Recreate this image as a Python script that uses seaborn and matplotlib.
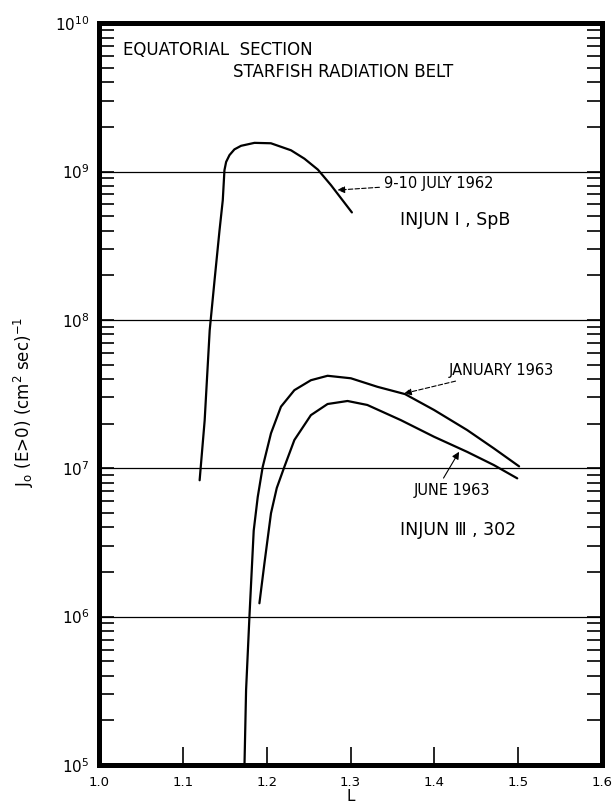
import numpy as np
import pandas as pd
import seaborn as sns
import matplotlib.pyplot as plt
from matplotlib.ticker import LogLocator, NullFormatter, FixedLocator

# ----------------------------
# Data
# ----------------------------
# 9-10 July 1962 (Injun I, SpB)
l_jul62 = [1.120, 1.126, 1.132, 1.138, 1.1437, 1.1476, 1.1496, 1.1516, 1.1556,
           1.1615, 1.1694, 1.1854, 1.205, 1.229, 1.245, 1.261, 1.2766, 1.3016]
j_jul62 = [8.3e6, 2.1e7, 8.5e7, 1.9e8, 4.0e8, 6.4e8, 1.02e9, 1.16e9, 1.29e9,
           1.41e9, 1.49e9, 1.56e9, 1.55e9, 1.39e9, 1.22e9, 1.03e9, 8.1e8, 5.3e8]

# January 1963 (Injun III, 302)
l_jan63 = [1.1730, 1.1735, 1.1754, 1.1794, 1.1845, 1.1893, 1.1952, 1.2051, 1.217,
           1.233, 1.2527, 1.2726, 1.3004, 1.332, 1.365, 1.3996, 1.439, 1.471, 1.501]
j_jan63 = [9.0e4, 1.0e5, 3.2e5, 1.0e6, 3.8e6, 6.4e6, 1.02e7, 1.72e7, 2.6e7,
           3.36e7, 3.92e7, 4.2e7, 4.04e7, 3.54e7, 3.16e7, 2.47e7, 1.81e7, 1.36e7, 1.03e7]

# June 1963 (Injun III, 302)
l_jun63 = [1.1913, 1.1973, 1.2051, 1.212, 1.221, 1.233, 1.2527, 1.2726, 1.2964,
           1.320, 1.360, 1.3996, 1.439, 1.471, 1.4988]
j_jun63 = [1.23e6, 2.29e6, 4.97e6, 7.36e6, 1.02e7, 1.55e7, 2.28e7, 2.71e7, 2.84e7,
           2.67e7, 2.11e7, 1.63e7, 1.29e7, 1.05e7, 8.55e6]

x_ticks = [1.0, 1.1, 1.2, 1.3, 1.4, 1.5, 1.6]
x_tick_labels = ["1.0", "1.1", "1.2", "1.3", "1.4", "1.5", "1.6"]
decades = [1e5, 1e6, 1e7, 1e8, 1e9, 1e10]
decade_labels = [r"10$^{5}$", r"10$^{6}$", r"10$^{7}$", r"10$^{8}$", r"10$^{9}$", r"10$^{10}$"]

df = pd.concat([
    pd.DataFrame({"L": l_jul62, "J": j_jul62, "curve": "jul62"}),
    pd.DataFrame({"L": l_jan63, "J": j_jan63, "curve": "jan63"}),
    pd.DataFrame({"L": l_jun63, "J": j_jun63, "curve": "jun63"}),
])

sns.set_style("white")
plt.rcParams["font.family"] = ["DejaVu Sans"]
plt.rcParams["text.color"] = "black"
plt.rcParams["axes.labelcolor"] = "black"
plt.rcParams["xtick.color"] = "black"
plt.rcParams["ytick.color"] = "black"

fig = plt.figure(figsize=(6.15, 8.09), dpi=100)
ax = fig.add_axes([0.161, 0.0544, 0.818, 0.917])

for name in ["jul62", "jan63", "jun63"]:
    sns.lineplot(data=df[df["curve"] == name], x="L", y="J", sort=False,
                 estimator=None, color="black", linewidth=1.6, ax=ax)

ax.set_yscale("log")
ax.set_xlim(1.0, 1.6)
ax.set_ylim(1e5, 1e10)

# horizontal decade lines
for d in decades[1:-1]:
    ax.axhline(d, color="black", linewidth=0.9, zorder=0)

# axes / ticks
for s in ax.spines.values():
    s.set_linewidth(3.6)
    s.set_color("black")

ax.xaxis.set_major_locator(FixedLocator(x_ticks))
ax.set_xticklabels(x_tick_labels, fontsize=9.5)
ax.yaxis.set_major_locator(FixedLocator(decades))
ax.set_yticklabels(decade_labels, fontsize=11)
ax.yaxis.set_minor_locator(LogLocator(base=10, subs=np.arange(2, 10)))
ax.yaxis.set_minor_formatter(NullFormatter())

ax.tick_params(axis="x", which="major", direction="in", length=13, width=1.2,
               top=False, bottom=True, pad=8)
ax.tick_params(axis="y", which="major", direction="in", length=11, width=1.2,
               left=True, right=True, pad=7)
ax.tick_params(axis="y", which="minor", direction="in", length=11, width=1.2,
               left=True, right=True)

ax.set_xlabel("L", fontsize=11, labelpad=0)
ax.set_ylabel(r"J$_{\mathrm{o}}$ (E>0) (cm$^{2}$ sec)$^{-1}$", fontsize=12)
ax.yaxis.set_label_coords(-0.125, 0.49)

# ----------------------------
# Annotations
# ----------------------------
ax.text(1.0286, 10**9.818, "EQUATORIAL  SECTION", fontsize=12, va="center", ha="left")
ax.text(1.1595, 10**9.67, "STARFISH RADIATION BELT", fontsize=12, va="center", ha="left")

ax.annotate("9-10 JULY 1962", xy=(1.2845, 10**8.875), xytext=(1.340, 10**8.92),
            fontsize=10.5, va="center", ha="left",
            arrowprops=dict(arrowstyle="-|>", color="black", linewidth=0.8,
                            linestyle=(0, (4, 2)), shrinkA=1, shrinkB=0))
ax.text(1.3595, 10**8.673, "INJUN Ⅰ , SpB", fontsize=12.5, va="center", ha="left")

ax.annotate("JANUARY 1963", xy=(1.364, 10**7.504), xytext=(1.4175, 10**7.662),
            fontsize=10.5, va="center", ha="left",
            arrowprops=dict(arrowstyle="-|>", color="black", linewidth=0.8,
                            linestyle=(0, (4, 2)), shrinkA=1, shrinkB=0))
ax.annotate("JUNE 1963", xy=(1.4294, 10**7.111), xytext=(1.3758, 10**6.853),
            fontsize=10.5, va="center", ha="left",
            arrowprops=dict(arrowstyle="-|>", color="black", linewidth=0.8,
                            relpos=(0.35, 1.0), shrinkA=1, shrinkB=0))
ax.text(1.3595, 10**6.584, "INJUN Ⅲ , 302", fontsize=12.5, va="center", ha="left")

plt.savefig("out.png", dpi=100)
